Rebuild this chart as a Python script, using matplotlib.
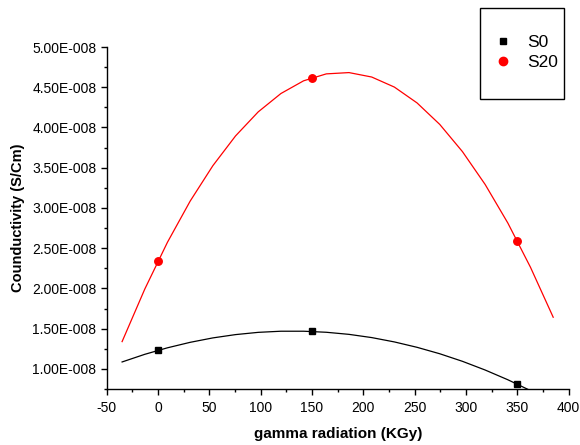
import matplotlib
matplotlib.use("Agg")
import matplotlib.pyplot as plt
from matplotlib import ticker
from matplotlib.patches import Rectangle
from matplotlib.lines import Line2D

plt.rcParams['font.family'] = ['Liberation Sans', 'DejaVu Sans']
plt.rcParams['axes.unicode_minus'] = False

# measured points
dose = [0, 150, 350]
s0 = [1.23e-8, 1.465e-8, 0.81e-8]
s20 = [2.34e-8, 4.62e-8, 2.59e-8]

# fitted curves (vertices)
fit_x = [-35, -12.9, 9.2, 31.3, 53.4, 75.5, 97.6, 119.7, 141.8, 163.9,
         186.0, 208.1, 230.2, 252.3, 274.4, 296.5, 318.6, 340.7, 362.8, 384.9]
fit_s0 = [1.086e-8, 1.181e-8, 1.262e-8, 1.330e-8, 1.385e-8, 1.426e-8, 1.454e-8,
          1.468e-8, 1.468e-8, 1.455e-8, 1.429e-8, 1.389e-8, 1.335e-8, 1.268e-8,
          1.188e-8, 1.094e-8, 0.986e-8, 0.865e-8, 0.730e-8]
fit_s20 = [1.339e-8, 1.992e-8, 2.574e-8, 3.085e-8, 3.525e-8, 3.895e-8, 4.194e-8,
           4.422e-8, 4.580e-8, 4.666e-8, 4.682e-8, 4.627e-8, 4.502e-8, 4.305e-8,
           4.038e-8, 3.700e-8, 3.292e-8, 2.813e-8, 2.262e-8, 1.642e-8]

fig = plt.figure(figsize=(5.8, 4.45), dpi=100)
ax = fig.add_axes([106.7 / 580, 1 - 389 / 445, 462 / 580, 342 / 445])

ax.plot(fit_x[:len(fit_s0)], fit_s0, color='black', lw=0.9)
ax.plot(fit_x, fit_s20, color='red', lw=0.9)
ax.plot(dose, s0, 's', color='black', ms=4.6, label='S0')
ax.plot(dose, s20, 'o', color='red', ms=5.4, label='S20')

ax.set_xlim(-50, 400)
ax.set_ylim(0.75e-8, 5.0e-8)
ax.xaxis.set_major_locator(ticker.MultipleLocator(50))
ax.xaxis.set_minor_locator(ticker.MultipleLocator(25))
ax.yaxis.set_major_locator(ticker.FixedLocator([i * 0.5e-8 for i in range(2, 11)]))
ax.yaxis.set_minor_locator(ticker.MultipleLocator(0.25e-8))


def sci_fmt(v, pos):
    m, e = ("%.2E" % v).split("E")
    return "%sE%s%03d" % (m, "-" if int(e) < 0 else "+", abs(int(e)))


ax.yaxis.set_major_formatter(ticker.FuncFormatter(sci_fmt))

for s in ['top', 'right']:
    ax.spines[s].set_visible(False)
for s in ['left', 'bottom']:
    ax.spines[s].set_linewidth(1.0)
ax.tick_params(which='major', direction='out', length=4, width=1.0,
               labelsize=10, colors='black')
ax.tick_params(axis='x', which='major', pad=5)
ax.tick_params(which='minor', direction='out', length=2.5, width=1.0)

ax.set_xlabel('gamma radiation (KGy)', fontsize=11, fontweight='bold', labelpad=8)
ax.set_ylabel('Counductivity (S/Cm)', fontsize=10.5, fontweight='bold', labelpad=5)

# legend box with a light shadow along the bottom
fig.patches.append(Rectangle((481 / 580, 1 - 100 / 445), 84 / 580, 91 / 445,
                             transform=fig.transFigure, facecolor='#888888',
                             edgecolor='none', zorder=4))
fig.patches.append(Rectangle((480 / 580, 1 - 99 / 445), 84 / 580, 91 / 445,
                             transform=fig.transFigure, facecolor='white',
                             edgecolor='black', lw=1.0, zorder=5))
handles = [Line2D([], [], ls='', marker='s', color='black', ms=5),
           Line2D([], [], ls='', marker='o', color='red', ms=6)]
fig.legend(handles, ['S0', 'S20'], loc='center',
           bbox_to_anchor=(526 / 580, 1 - 52.5 / 445), frameon=False,
           fontsize=12.5, handlelength=1.0, handletextpad=0.9, labelspacing=0.3)

fig.savefig('out.png', dpi=100)
